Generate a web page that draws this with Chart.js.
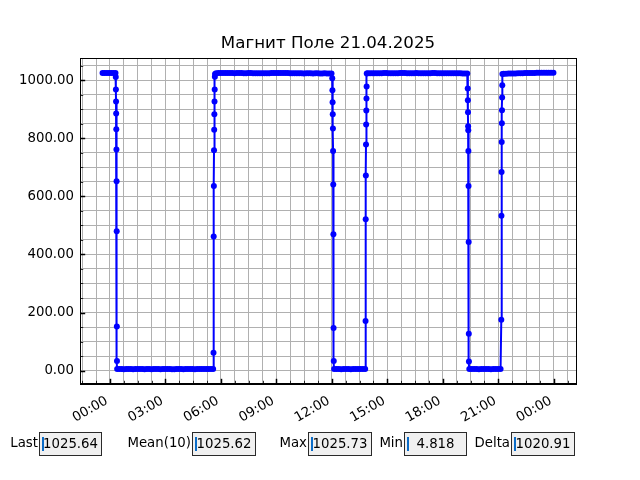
<!DOCTYPE html>
<html>
<head>
<meta charset="utf-8">
<script src="https://cdn.jsdelivr.net/npm/chart.js@4"></script>
<style>
  html, body { margin: 0; padding: 0; background: #fff; }
  #wrap { position: relative; width: 640px; height: 480px; overflow: hidden; }
  #chart { position: absolute; left: 0; top: 0; }
  .lbl { position: absolute; top: 435px; font: 13.3px "DejaVu Sans"; color: #000; text-align: right; white-space: pre; }
  .box { position: absolute; top: 432px; height: 24px; box-sizing: border-box; border: 1px solid #2a2a2a;
         background: #f0f0f0; font: 13.3px "DejaVu Sans"; line-height: 22px; text-align: center; white-space: pre; }
  .box::before { content: ''; position: absolute; left: 2px; top: 4px; width: 2px; height: 14px; background: #0a6cc8; }
</style>
</head>
<body>
<div id="wrap">
  <canvas id="chart" width="640" height="480"></canvas>
</div>
<script>
// readings of the field sensor, hours from 00:00 of 21.04.2025
// each block: [first hour, last hour] and the readings spread over it
const highA = [1025.2, 1025.4, 1025.3, 1025.0, 1024.8, 1025.1, 1024.7];
const highASpan = [-0.40, 0.30];
const dropA = [1011, 968, 927, 886, 831, 762, 652, 480, 152, 33];
const dropASpan = [0.315, 0.380];
const lowA = [
  5.6, 5.3, 5.1, 4.9, 5.0, 5.2, 5.1, 4.9, 5.0, 5.3,
  5.2, 5.0, 4.9, 5.1, 5.0, 4.8, 5.0, 5.2, 5.1, 4.9,
  5.0, 5.3, 5.1, 5.0, 4.9, 4.818, 5.0, 5.1, 5.2, 4.9,
  5.0, 5.1, 5.3, 5.0, 4.9, 5.1, 5.2, 5.0, 5.1, 5.3,
  5.2, 5.4, 5.5
];
const lowASpan = [0.39, 5.58];
const riseA = [61, 462, 636, 759, 830, 883, 927, 968, 1012, 1022];
const riseASpan = [5.600, 5.682];
const highB = [
  1024.3, 1024.8, 1025.1, 1024.9, 1024.7, 1024.8, 1025.0, 1024.9, 1024.6, 1024.8,
  1025.0, 1024.7, 1024.5, 1024.6, 1024.9, 1024.7, 1024.4, 1024.1, 1023.9, 1024.0,
  1024.2, 1024.4, 1024.3, 1024.5, 1024.8, 1025.1, 1025.3, 1025.5, 1025.4, 1025.2,
  1025.0, 1024.8, 1024.6, 1024.4, 1024.2, 1024.1, 1024.0, 1023.9, 1023.8, 1023.9,
  1024.1, 1024.0, 1023.8, 1023.9, 1024.0, 1023.8, 1023.7, 1023.9, 1023.8, 1023.6, 1023.7
];
const highBSpan = [5.74, 11.98];
const dropB = [1007, 966, 924, 883, 834, 756, 641, 470, 147, 33];
const dropBSpan = [12.020, 12.101];
const lowB = [5.5, 5.2, 5.0, 4.9, 5.1, 5.2, 5.0, 4.9, 5.1, 5.0, 5.2, 5.1, 5.0, 5.3];
const lowBSpan = [12.12, 13.80];
const riseB = [171, 521, 672, 779, 848, 896, 937, 979, 1023];
const riseBSpan = [13.820, 13.886];
const highC = [
  1024.0, 1024.3, 1024.6, 1024.5, 1024.3, 1024.4, 1024.6, 1024.8, 1024.7, 1024.5,
  1024.3, 1024.2, 1024.4, 1024.6, 1024.8, 1024.9, 1024.7, 1024.5, 1024.4, 1024.3,
  1024.5, 1024.7, 1024.6, 1024.4, 1024.2, 1024.1, 1024.3, 1024.5, 1024.7, 1024.8,
  1024.6, 1024.4, 1024.3, 1024.1, 1024.0, 1024.2, 1024.4, 1024.3, 1024.1, 1023.9,
  1024.0, 1023.8, 1023.7, 1023.6
];
const highCSpan = [13.94, 19.32];
const dropC = [972, 931, 890, 842, 828, 756, 636, 443, 127, 31];
const dropCSpan = [19.345, 19.410];
const lowC = [5.4, 5.1, 5.0, 5.2, 4.9, 5.0, 5.1, 5.3, 5.0, 4.9, 5.1, 5.2, 5.0, 5.2];
const lowCSpan = [19.43, 21.12];
const riseC = [175, 533, 684, 787, 852, 897, 941, 983, 1022];
const riseCSpan = [21.160, 21.220];
const highD = [
  1022.6, 1022.9, 1023.1, 1023.3, 1023.5, 1023.8, 1024.0, 1024.3, 1024.5, 1024.8,
  1025.0, 1025.2, 1025.4, 1025.5, 1025.6, 1025.7, 1025.73, 1025.6, 1025.55, 1025.6, 1025.7, 1025.64
];
const highDSpan = [21.29, 23.98];

const xTickHours = [0, 3, 6, 9, 12, 15, 18, 21, 24];
const xTickLabels = ['00:00', '03:00', '06:00', '09:00', '12:00', '15:00', '18:00', '21:00', '00:00'];
const yTickValues = [0, 200, 400, 600, 800, 1000];

const statNames = ['Last', 'Mean(10)', 'Max', 'Min', 'Delta'];
const statValues = ['1025.64', '1025.62', '1025.73', '4.818', '1020.91'];

const titleText = 'Магнит Поле 21.04.2025';

// join the blocks into one series of {x, y}
const blocks = [
  [highA, highASpan], [dropA, dropASpan], [lowA, lowASpan], [riseA, riseASpan],
  [highB, highBSpan], [dropB, dropBSpan], [lowB, lowBSpan], [riseB, riseBSpan],
  [highC, highCSpan], [dropC, dropCSpan], [lowC, lowCSpan], [riseC, riseCSpan],
  [highD, highDSpan]
];
const points = [];
blocks.forEach(([vals, span]) => {
  const n = vals.length;
  vals.forEach((v, i) => {
    const t = n > 1 ? span[0] + (span[1] - span[0]) * i / (n - 1) : span[0];
    points.push({ x: t, y: v });
  });
});

// stats row under the chart
const boxPos = [[39, 63], [192, 64], [308, 64], [404, 63], [511, 64]];
const wrap = document.getElementById('wrap');
statNames.forEach((name, i) => {
  const [left, w] = boxPos[i];
  const lbl = document.createElement('div');
  lbl.className = 'lbl';
  lbl.textContent = name;
  lbl.style.right = (640 - left + 1) + 'px';
  wrap.appendChild(lbl);
  const box = document.createElement('div');
  box.className = 'box';
  box.textContent = statValues[i];
  box.style.left = left + 'px';
  box.style.width = w + 'px';
  wrap.appendChild(box);
});

// matplotlib-like 5% margins
const xs = points.map(p => p.x), ys = points.map(p => p.y);
const tMin = Math.min(...xs), tMax = Math.max(...xs);
const fMin = Math.min(...ys), fMax = Math.max(...ys);
const xMin = tMin - 0.05 * (tMax - tMin), xMax = tMax + 0.05 * (tMax - tMin);
const yMin = fMin - 0.05 * (fMax - fMin), yMax = fMax + 0.05 * (fMax - fMin);

const xStep = 3, yStep = 200;
function gridValues(step, lo, hi) {
  const out = [];
  const minor = step / 4;
  for (let v = Math.ceil(lo / minor) * minor; v <= hi + 1e-9; v += minor) out.push(Math.round(v * 1000) / 1000);
  return out;
}

const frameAndTicks = {
  id: 'frameAndTicks',
  afterDraw(chart) {
    const { ctx, chartArea: a, scales: { x, y } } = chart;
    ctx.save();
    ctx.strokeStyle = '#000';
    ctx.lineWidth = 1;
    const L = Math.round(a.left) + 0.5, T = Math.round(a.top) + 0.5;
    const R = Math.round(a.right) + 0.5, B = Math.round(a.bottom) - 0.5;
    ctx.strokeRect(L, T, R - L, B - T);
    x.ticks.forEach(t => {
      const major = xTickHours.includes(t.value);
      const px = Math.round(x.getPixelForValue(t.value)) + 0.5;
      ctx.lineWidth = major ? 1.5 : 0.8;
      ctx.beginPath();
      ctx.moveTo(px, B);
      ctx.lineTo(px, B - (major ? 4.7 : 2.7));
      ctx.stroke();
    });
    y.ticks.forEach(t => {
      const major = yTickValues.includes(t.value);
      const py = Math.round(y.getPixelForValue(t.value)) + 0.5;
      ctx.lineWidth = major ? 1.5 : 0.8;
      ctx.beginPath();
      ctx.moveTo(L, py);
      ctx.lineTo(L + (major ? 4.7 : 2.7), py);
      ctx.stroke();
    });
    // title centred over the plot area
    ctx.fillStyle = '#000';
    ctx.font = '16.67px "DejaVu Sans"';
    ctx.textAlign = 'center';
    ctx.textBaseline = 'middle';
    ctx.fillText(titleText, (a.left + a.right) / 2, 44);
    ctx.restore();
  }
};

const tickFont = { family: 'DejaVu Sans', size: 13.3 };

new Chart(document.getElementById('chart'), {
  type: 'line',
  data: {
    datasets: [{
      data: points,
      borderColor: '#0000ff',
      backgroundColor: '#0000ff',
      borderWidth: 2,
      pointRadius: 3,
      pointBorderWidth: 0,
      pointBackgroundColor: '#0000ff',
      tension: 0
    }]
  },
  options: {
    responsive: false,
    animation: false,
    devicePixelRatio: 1,
    layout: { padding: { left: 0, right: 64, top: 58, bottom: 0 } },
    plugins: {
      legend: { display: false },
      tooltip: { enabled: false },
      title: { display: false }
    },
    scales: {
      x: {
        type: 'linear',
        min: xMin,
        max: xMax,
        afterBuildTicks: s => { s.ticks = gridValues(xStep, xMin, xMax).map(v => ({ value: v })); },
        afterFit: s => { s.height = 96; },
        grid: { color: '#b0b0b0', lineWidth: 1, drawTicks: false },
        border: { color: '#000', width: 1 },
        ticks: {
          autoSkip: false,
          minRotation: 30,
          maxRotation: 30,
          padding: 9,
          labelOffset: -3,
          color: '#000',
          font: tickFont,
          callback: v => {
            const i = xTickHours.indexOf(v);
            return i >= 0 ? xTickLabels[i] : '';
          }
        }
      },
      y: {
        min: yMin,
        max: yMax,
        afterBuildTicks: s => { s.ticks = gridValues(yStep, yMin, yMax).map(v => ({ value: v })); },
        afterFit: s => { s.width = 80; },
        grid: { color: '#b0b0b0', lineWidth: 1, drawTicks: false },
        border: { color: '#000', width: 1 },
        ticks: {
          autoSkip: false,
          padding: 6,
          color: '#000',
          font: tickFont,
          callback: v => yTickValues.includes(v) ? v.toFixed(2) : ''
        }
      }
    }
  },
  plugins: [frameAndTicks]
});
</script>
</body>
</html>
